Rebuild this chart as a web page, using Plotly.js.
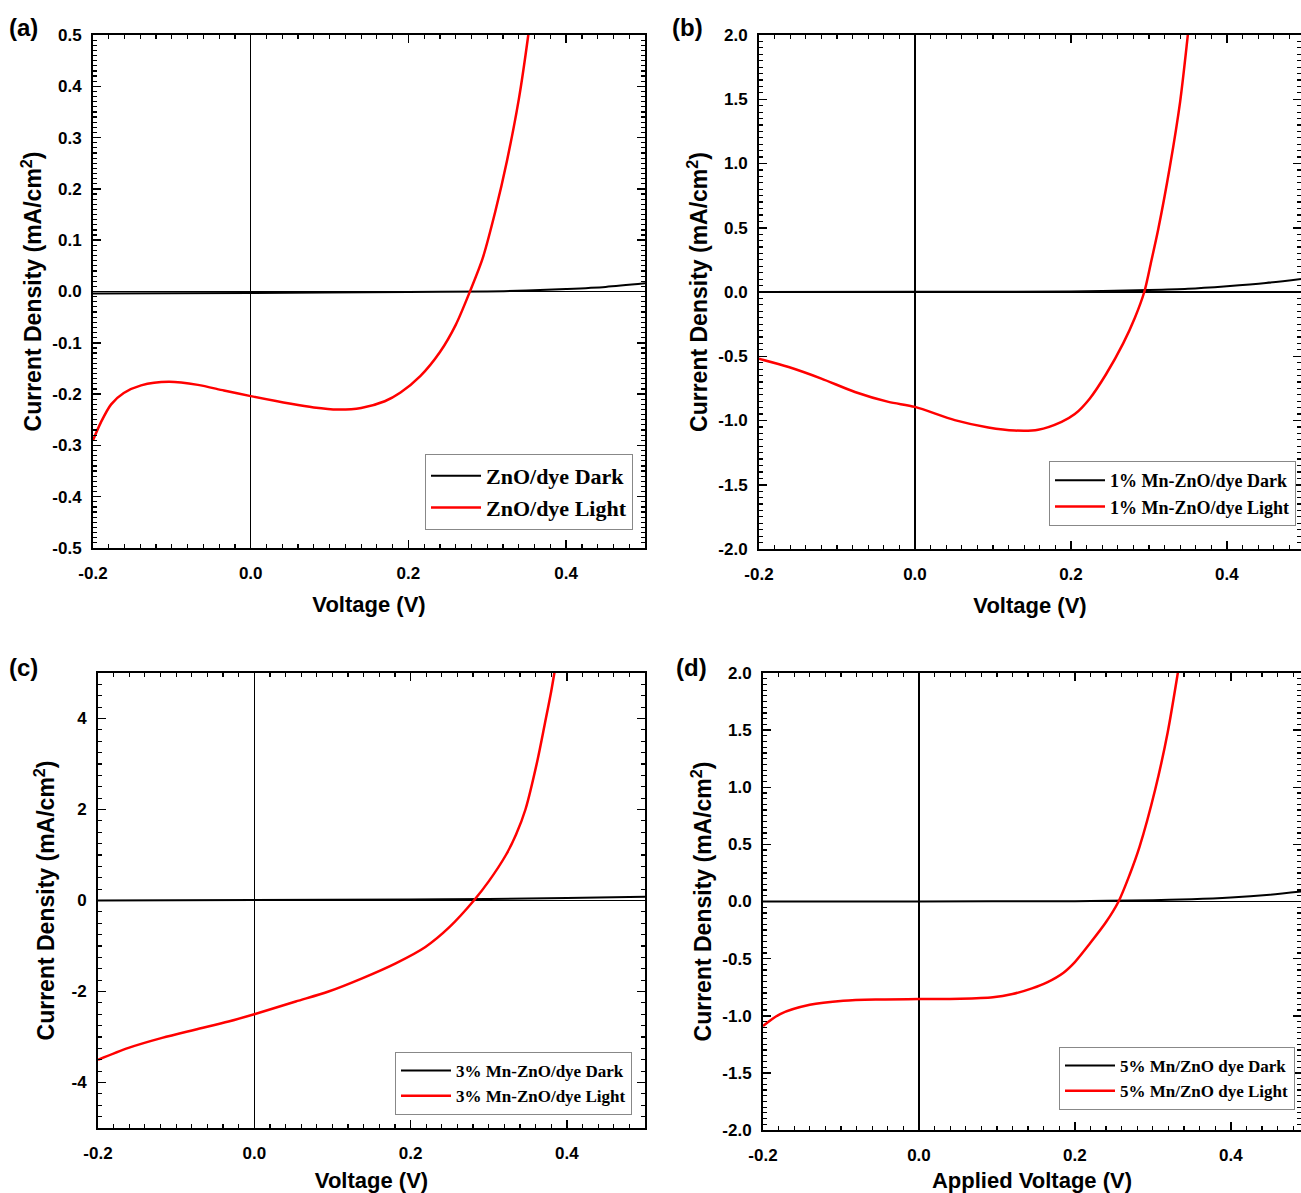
<!DOCTYPE html>
<html><head><meta charset="utf-8">
<script src="https://cdn.plot.ly/plotly-3.0.1.min.js"></script>
<style>html,body{margin:0;padding:0;background:#fff}</style>
</head><body><div id="chart" style="width:1301px;height:1193px"></div>
<script>
// ---------- data ----------
// Panel (a) ZnO/dye
const aDarkV  = [-0.2, 0.0, 0.2, 0.3, 0.35, 0.4, 0.45, 0.5];
const aDarkJ  = [-0.004, -0.003, -0.001, 0.0, 0.002, 0.005, 0.009, 0.016];
const aLightV = [-0.2, -0.19, -0.177, -0.161, -0.139, -0.104, -0.067, -0.034, 0.0, 0.051, 0.08, 0.11, 0.14, 0.17, 0.19, 0.215, 0.24, 0.26, 0.278, 0.294, 0.31, 0.325, 0.34, 0.352, 0.36];
const aLightJ = [-0.29, -0.255, -0.22, -0.198, -0.183, -0.176, -0.182, -0.193, -0.204, -0.219, -0.226, -0.23, -0.227, -0.214, -0.197, -0.165, -0.118, -0.065, 0.0, 0.064, 0.155, 0.255, 0.375, 0.5, 0.6];
// Panel (b) 1% Mn-ZnO/dye
const bDarkV  = [-0.2, 0.0, 0.2, 0.3, 0.35, 0.4, 0.45, 0.5];
const bDarkJ  = [0.0, 0.001, 0.003, 0.015, 0.025, 0.045, 0.07, 0.105];
const bLightV = [-0.2, -0.162, -0.12, -0.077, -0.034, 0.0, 0.051, 0.094, 0.128, 0.158, 0.188, 0.205, 0.224, 0.245, 0.267, 0.282, 0.294, 0.303, 0.312, 0.327, 0.34, 0.349, 0.355];
const bLightJ = [-0.52, -0.584, -0.674, -0.778, -0.855, -0.894, -0.997, -1.054, -1.078, -1.072, -1.01, -0.95, -0.83, -0.64, -0.40, -0.20, 0.0, 0.24, 0.49, 0.98, 1.48, 1.95, 2.3];
// Panel (c) 3% Mn-ZnO/dye
const cDarkV  = [-0.2, 0.0, 0.2, 0.3, 0.4, 0.5];
const cDarkJ  = [0.0, 0.01, 0.02, 0.035, 0.055, 0.08];
const cLightV = [-0.2, -0.161, -0.118, -0.076, -0.033, 0.0, 0.053, 0.095, 0.138, 0.181, 0.219, 0.25, 0.281, 0.30, 0.322, 0.335, 0.347, 0.362, 0.372, 0.38, 0.386, 0.392];
const cLightJ = [-3.50, -3.24, -3.02, -2.84, -2.66, -2.50, -2.22, -2.00, -1.71, -1.38, -1.02, -0.58, 0.0, 0.42, 1.0, 1.45, 2.0, 3.05, 3.9, 4.6, 5.2, 5.8];
// Panel (d) 5% Mn/ZnO dye
const dDarkV  = [-0.2, 0.0, 0.2, 0.3, 0.35, 0.4, 0.45, 0.5];
const dDarkJ  = [0.0, 0.001, 0.003, 0.012, 0.02, 0.035, 0.06, 0.095];
const dLightV = [-0.2, -0.178, -0.14, -0.097, -0.054, 0.0, 0.053, 0.095, 0.12, 0.145, 0.165, 0.185, 0.2, 0.219, 0.24, 0.256, 0.27, 0.283, 0.303, 0.319, 0.332, 0.34];
const dLightJ = [-1.09, -0.985, -0.904, -0.868, -0.857, -0.854, -0.852, -0.839, -0.81, -0.76, -0.705, -0.625, -0.53, -0.37, -0.18, 0.0, 0.23, 0.48, 0.98, 1.48, 2.0, 2.35];

// tick labels
const xTickVals = [-0.2, 0.0, 0.2, 0.4];
const xTickText = ['-0.2', '0.0', '0.2', '0.4'];
const aTickVals = [-0.5, -0.4, -0.3, -0.2, -0.1, 0.0, 0.1, 0.2, 0.3, 0.4, 0.5];
const aTickText = ['-0.5', '-0.4', '-0.3', '-0.2', '-0.1', '0.0', '0.1', '0.2', '0.3', '0.4', '0.5'];
const bdTickVals = [-2.0, -1.5, -1.0, -0.5, 0.0, 0.5, 1.0, 1.5, 2.0];
const bdTickText = ['-2.0', '-1.5', '-1.0', '-0.5', '0.0', '0.5', '1.0', '1.5', '2.0'];
const cTickVals = [-4, -2, 0, 2, 4];
const cTickText = ['-4', '-2', '0', '2', '4'];

const names = {
  a: ['ZnO/dye Dark', 'ZnO/dye Light'],
  b: ['1% Mn-ZnO/dye Dark', '1% Mn-ZnO/dye Light'],
  c: ['3% Mn-ZnO/dye Dark', '3% Mn-ZnO/dye Light'],
  d: ['5% Mn/ZnO dye Dark', '5% Mn/ZnO dye Light']
};
const xTitles = ['Voltage (V)', 'Voltage (V)', 'Voltage (V)', 'Applied Voltage (V)'];
const yTitle = 'Current Density (mA/cm<sup>2</sup>)';

// ---------- build ----------
const W = 1301, H = 1193;
const SANS = 'Liberation Sans, Arial, sans-serif';
const SERIF = 'Liberation Serif, Times New Roman, serif';

function tr(x, y, name, color, width, xa, ya, lg) {
  return {x, y, name, type: 'scatter', mode: 'lines', xaxis: xa, yaxis: ya, legend: lg,
          line: {color, width, shape: 'spline', smoothing: 0.8}};
}
const data = [
  tr(aDarkV, aDarkJ, names.a[0], '#000', 2, 'x', 'y', 'legend'),
  tr(aLightV, aLightJ, names.a[1], '#ff0000', 2.5, 'x', 'y', 'legend'),
  tr(bDarkV, bDarkJ, names.b[0], '#000', 2, 'x2', 'y2', 'legend2'),
  tr(bLightV, bLightJ, names.b[1], '#ff0000', 2.5, 'x2', 'y2', 'legend2'),
  tr(cDarkV, cDarkJ, names.c[0], '#000', 2, 'x3', 'y3', 'legend3'),
  tr(cLightV, cLightJ, names.c[1], '#ff0000', 2.5, 'x3', 'y3', 'legend3'),
  tr(dDarkV, dDarkJ, names.d[0], '#000', 2, 'x4', 'y4', 'legend4'),
  tr(dLightV, dLightJ, names.d[1], '#ff0000', 2.5, 'x4', 'y4', 'legend4')
];

function px2x(p) { return p / W; }
function px2y(p) { return 1 - p / H; }

function axisBase() {
  return {showgrid: false, zeroline: true, zerolinecolor: '#000', zerolinewidth: 1.5,
          showline: true, linecolor: '#000', linewidth: 2, mirror: 'ticks',
          ticks: 'inside', ticklen: 8, tickwidth: 1.5, tickcolor: '#000',
          tickmode: 'array', automargin: false,
          tickfont: {family: SANS, size: 17, weight: 'bold', color: '#000'}};
}
function xax(d0, d1, r1, anchor, title) {
  return Object.assign(axisBase(), {
    domain: [px2x(d0), Math.min(1, px2x(d1))], range: [-0.2, r1], anchor,
    tickvals: xTickVals, ticktext: xTickText, ticklabelstandoff: 9,
    minor: {tickmode: 'linear', tick0: 0, dtick: 0.02, ticks: 'inside', ticklen: 4, tickwidth: 1.2, tickcolor: '#000'},
    title: {text: title, standoff: 14, font: {family: SANS, size: 22, weight: 'bold', color: '#000'}}
  });
}
function yax(top, bot, range, vals, text, mdt, anchor, so) {
  return Object.assign(axisBase(), {
    domain: [px2y(bot), px2y(top)], range, anchor,
    tickvals: vals, ticktext: text, ticklabelstandoff: 6,
    minor: {tickmode: 'linear', tick0: 0, dtick: mdt, ticks: 'inside', ticklen: 4, tickwidth: 1.2, tickcolor: '#000'},
    title: {text: yTitle, standoff: so, font: {family: SANS, size: 23, weight: 'bold', color: '#000'}}
  });
}
function leg(right, bottom, size) {
  return {x: px2x(right), y: px2y(bottom), xanchor: 'right', yanchor: 'bottom',
          bgcolor: '#fff', bordercolor: '#888', borderwidth: 1, tracegroupgap: 0,
          itemwidth: 50,
          font: {family: SERIF, size, weight: 'bold', color: '#000'}};
}
function lab(text, x, y) {
  return {text, x: px2x(x), y: px2y(y), xref: 'paper', yref: 'paper', xanchor: 'left', yanchor: 'middle',
          showarrow: false, font: {family: SANS, size: 24, weight: 'bold', color: '#000'}};
}

const layout = {
  width: W, height: H, margin: {l: 0, r: 0, t: 0, b: 0},
  paper_bgcolor: '#fff', plot_bgcolor: '#fff', showlegend: true,
  xaxis:  xax(93, 645, 0.5, 'y', xTitles[0]),
  yaxis:  yax(35, 548, [-0.5, 0.5], aTickVals, aTickText, 0.01, 'x', 4),
  xaxis2: xax(759, 1301, 0.495, 'y2', xTitles[1]),
  yaxis2: yax(35, 549, [-2, 2], bdTickVals, bdTickText, 0.05, 'x2', 4),
  xaxis3: xax(98, 645, 0.5, 'y3', xTitles[2]),
  yaxis3: yax(673, 1128, [-5, 5], cTickVals, cTickText, 0.25, 'x3', 10),
  xaxis4: xax(763, 1301, 0.49, 'y4', xTitles[3]),
  yaxis4: yax(673, 1130, [-2, 2], bdTickVals, bdTickText, 0.05, 'x4', 4),
  legend:  leg(633, 530, 22),
  legend2: leg(1296, 526, 18),
  legend3: leg(632, 1115, 17),
  legend4: leg(1295, 1110, 17),
  annotations: [lab('(a)', 7, 28), lab('(b)', 670, 28), lab('(c)', 7, 667), lab('(d)', 674, 667)]
};

Plotly.newPlot('chart', data, layout, {displayModeBar: false, staticPlot: true});
</script>
</body></html>
